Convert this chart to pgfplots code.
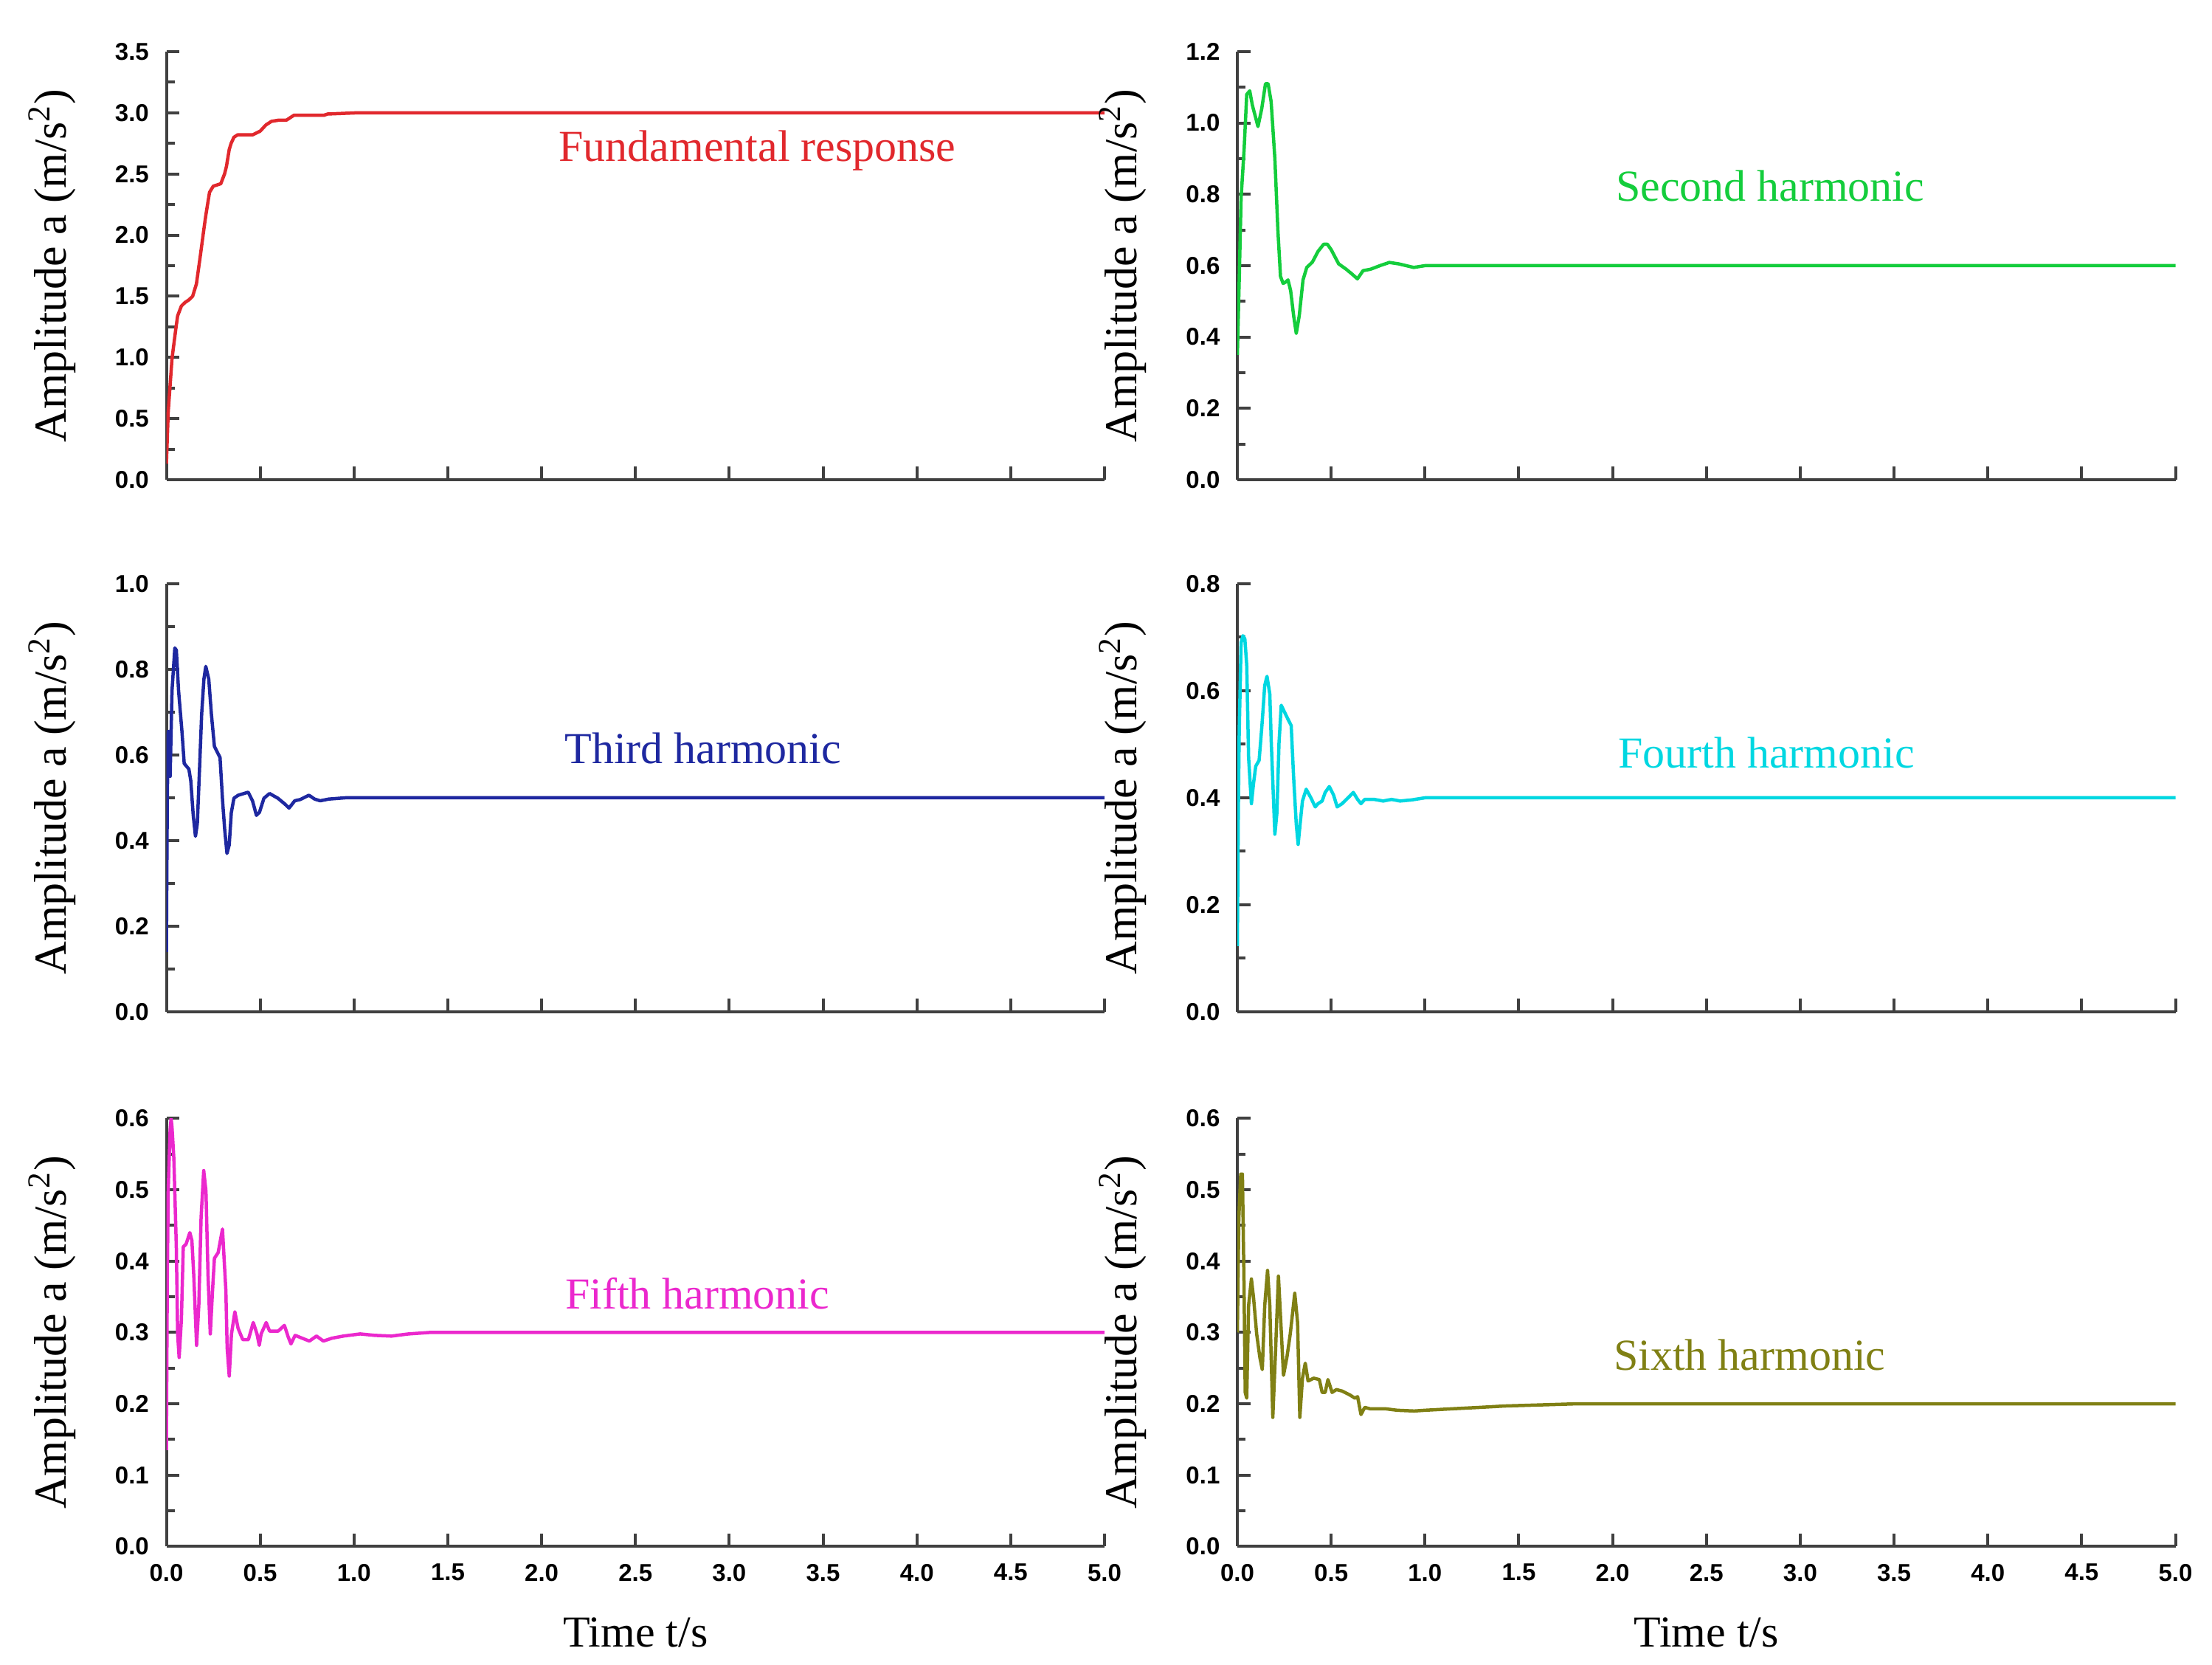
\documentclass[border=0pt]{standalone}
\usepackage{fontspec}
\setmainfont{Liberation Serif}
\setsansfont{Liberation Sans}
\usepackage{pgfplots}
\pgfplotsset{compat=1.18}

\definecolor{cred}{RGB}{225,40,45}
\definecolor{cgreen}{RGB}{20,205,60}
\definecolor{cblue}{RGB}{30,40,160}
\definecolor{ccyan}{RGB}{0,215,225}
\definecolor{cmag}{RGB}{235,40,205}
\definecolor{colive}{RGB}{128,128,20}

\pgfplotsset{
  myaxis/.style={
    scale only axis, width=254.3pt, height=116pt,
    axis lines*=left,
    axis line style={line width=0.8pt, black!75},
    xmin=0, xmax=5, ymin=0,
    xtick={0,0.5,1,1.5,2,2.5,3,3.5,4,4.5,5},
    minor y tick num=1,
    tick style={line width=0.8pt, black!75},
    major tick length=3.5pt, minor tick length=2.2pt,
    tick align=inside,
    ticklabel style={font=\sffamily\bfseries\fontsize{6.6}{7}\selectfont},
    xticklabel style={yshift=-1.2pt},
    yticklabel style={xshift=-1.2pt},
    /pgf/number format/assume math mode=true,
    /pgf/number format/fixed,
    /pgf/number format/fixed zerofill,
    /pgf/number format/precision=1,
    ylabel={Amplitude a (m/s\textsuperscript{2})},
    ylabel style={font=\fontsize{12.4}{13}\selectfont, at={(axis description cs:0,0.5)}, anchor=center, yshift=31pt},
    xlabel style={font=\fontsize{12}{13}\selectfont, at={(axis description cs:0.5,0)}, anchor=center, yshift=-23.3pt},
    every axis plot/.append style={line width=0.9pt, line join=round},
  },
  notx/.style={xticklabels={}},
}

\begin{document}
\begin{tikzpicture}
\path[use as bounding box] (0,0) rectangle (599.6pt,451.2pt);

% ---------- Fundamental ----------
\begin{axis}[myaxis, notx, at={(45.1pt,321.2pt)}, anchor=south west,
  ymax=3.5, ytick={0,0.5,1,1.5,2,2.5,3,3.5}]
\addplot[cred] coordinates {
(0,0.13) (0.01,0.56) (0.03,0.99) (0.05,1.23) (0.06,1.34) (0.08,1.42) (0.1,1.45) (0.12,1.47) (0.14,1.50) (0.16,1.60) (0.18,1.82) (0.2,2.05) (0.21,2.16) (0.23,2.35) (0.25,2.40) (0.27,2.41) (0.29,2.42) (0.31,2.50) (0.32,2.56) (0.335,2.70) (0.345,2.75) (0.36,2.80) (0.38,2.82) (0.42,2.82) (0.46,2.82) (0.50,2.85) (0.53,2.90) (0.56,2.93) (0.60,2.94) (0.64,2.94) (0.66,2.96) (0.68,2.98) (0.84,2.98) (0.86,2.99) (1.02,3.0) (5,3.0)
};
\node[text=cred, font=\fontsize{12}{13}\selectfont] at (axis cs:3.15,2.69) {Fundamental response};
\end{axis}

% ---------- Second ----------
\begin{axis}[myaxis, notx, at={(335.4pt,321.2pt)}, anchor=south west,
  ymax=1.2, ytick={0,0.2,0.4,0.6,0.8,1.0,1.2}]
\addplot[cgreen] coordinates {
(0,0.35) (0.01,0.56) (0.02,0.79) (0.036,0.925) (0.05,1.08) (0.066,1.09) (0.08,1.05) (0.09,1.03) (0.11,0.99) (0.13,1.04) (0.15,1.11) (0.164,1.11) (0.18,1.06) (0.2,0.90) (0.216,0.70) (0.23,0.57) (0.244,0.55) (0.26,0.555) (0.27,0.56) (0.284,0.53) (0.30,0.46) (0.314,0.41) (0.33,0.46) (0.35,0.56) (0.37,0.595) (0.40,0.61) (0.43,0.64) (0.46,0.66) (0.48,0.66) (0.50,0.645) (0.54,0.605) (0.58,0.59) (0.61,0.577) (0.64,0.563) (0.67,0.586) (0.71,0.59) (0.76,0.60) (0.81,0.609) (0.86,0.605) (0.94,0.595) (1.0,0.60) (5,0.60)
};
\node[text=cgreen, font=\fontsize{12}{13}\selectfont] at (axis cs:2.84,0.824) {Second harmonic};
\end{axis}

% ---------- Third ----------
\begin{axis}[myaxis, notx, at={(45.1pt,177.0pt)}, anchor=south west,
  ymax=1.0, ytick={0,0.2,0.4,0.6,0.8,1.0}]
\addplot[cblue] coordinates {
(0,0.14) (0.005,0.506) (0.01,0.655) (0.02,0.55) (0.03,0.75) (0.045,0.85) (0.053,0.845) (0.065,0.75) (0.083,0.655) (0.095,0.58) (0.12,0.567) (0.13,0.54) (0.143,0.46) (0.155,0.41) (0.165,0.44) (0.176,0.56) (0.188,0.695) (0.20,0.777) (0.21,0.807) (0.226,0.777) (0.24,0.695) (0.256,0.62) (0.286,0.594) (0.30,0.49) (0.311,0.425) (0.323,0.37) (0.335,0.39) (0.346,0.465) (0.36,0.499) (0.383,0.506) (0.436,0.513) (0.459,0.493) (0.48,0.459) (0.496,0.466) (0.52,0.499) (0.55,0.51) (0.594,0.499) (0.63,0.486) (0.654,0.476) (0.684,0.493) (0.714,0.496) (0.76,0.506) (0.79,0.497) (0.82,0.493) (0.865,0.497) (0.955,0.5) (5,0.5)
};
\node[text=cblue, font=\fontsize{12}{13}\selectfont] at (axis cs:2.86,0.615) {Third harmonic};
\end{axis}

% ---------- Fourth ----------
\begin{axis}[myaxis, notx, at={(335.4pt,177.0pt)}, anchor=south west,
  ymax=0.8, ytick={0,0.2,0.4,0.6,0.8}]
\addplot[ccyan] coordinates {
(0,0.123) (0.005,0.367) (0.01,0.524) (0.02,0.69) (0.03,0.703) (0.04,0.697) (0.05,0.648) (0.06,0.475) (0.075,0.389) (0.086,0.426) (0.098,0.459) (0.116,0.47) (0.131,0.535) (0.146,0.61) (0.158,0.627) (0.173,0.594) (0.181,0.502) (0.19,0.421) (0.20,0.332) (0.211,0.372) (0.222,0.502) (0.234,0.573) (0.249,0.562) (0.271,0.546) (0.287,0.535) (0.30,0.438) (0.314,0.351) (0.324,0.313) (0.336,0.356) (0.347,0.394) (0.367,0.416) (0.392,0.40) (0.415,0.383) (0.43,0.389) (0.452,0.394) (0.468,0.41) (0.49,0.421) (0.513,0.405) (0.532,0.383) (0.558,0.389) (0.596,0.402) (0.618,0.41) (0.641,0.397) (0.659,0.389) (0.679,0.397) (0.73,0.397) (0.777,0.394) (0.822,0.397) (0.867,0.394) (0.928,0.396) (1.0,0.40) (5,0.40)
};
\node[text=ccyan, font=\fontsize{12}{13}\selectfont] at (axis cs:2.82,0.484) {Fourth harmonic};
\end{axis}

% ---------- Fifth ----------
\begin{axis}[myaxis, at={(45.1pt,32.1pt)}, anchor=south west,
  ymax=0.6, ytick={0,0.1,0.2,0.3,0.4,0.5,0.6}, xlabel={Time t/s}]
\addplot[cmag] coordinates {
(0,0.135) (0.005,0.38) (0.01,0.502) (0.02,0.584) (0.025,0.60) (0.03,0.588) (0.04,0.543) (0.053,0.42) (0.06,0.298) (0.068,0.265) (0.08,0.318) (0.09,0.42) (0.105,0.424) (0.125,0.44) (0.136,0.429) (0.146,0.38) (0.161,0.282) (0.173,0.339) (0.185,0.461) (0.199,0.527) (0.211,0.498) (0.222,0.38) (0.234,0.298) (0.246,0.359) (0.256,0.404) (0.276,0.412) (0.299,0.445) (0.317,0.359) (0.324,0.278) (0.335,0.239) (0.347,0.298) (0.365,0.329) (0.382,0.306) (0.407,0.29) (0.437,0.29) (0.463,0.314) (0.483,0.298) (0.495,0.282) (0.505,0.298) (0.532,0.314) (0.55,0.302) (0.596,0.302) (0.629,0.31) (0.649,0.294) (0.664,0.284) (0.686,0.296) (0.724,0.292) (0.762,0.288) (0.80,0.295) (0.837,0.288) (0.882,0.292) (0.943,0.295) (1.033,0.298) (1.11,0.296) (1.2,0.295) (1.29,0.298) (1.4,0.30) (5,0.30)
};
\node[text=cmag, font=\fontsize{12}{13}\selectfont] at (axis cs:2.83,0.355) {Fifth harmonic};
\end{axis}

% ---------- Sixth ----------
\begin{axis}[myaxis, at={(335.4pt,32.1pt)}, anchor=south west,
  ymax=0.6, ytick={0,0.1,0.2,0.3,0.4,0.5,0.6}, xlabel={Time t/s}]
\addplot[colive] coordinates {
(0,0.30) (0.008,0.46) (0.018,0.522) (0.027,0.522) (0.035,0.38) (0.042,0.216) (0.05,0.208) (0.06,0.338) (0.075,0.375) (0.087,0.347) (0.103,0.298) (0.12,0.265) (0.133,0.248) (0.146,0.338) (0.161,0.387) (0.173,0.338) (0.189,0.181) (0.204,0.277) (0.219,0.379) (0.231,0.318) (0.246,0.24) (0.264,0.265) (0.282,0.298) (0.306,0.355) (0.321,0.314) (0.333,0.181) (0.347,0.236) (0.362,0.257) (0.377,0.232) (0.407,0.236) (0.437,0.234) (0.452,0.216) (0.468,0.216) (0.483,0.234) (0.505,0.216) (0.528,0.22) (0.558,0.218) (0.603,0.212) (0.626,0.208) (0.641,0.21) (0.659,0.185) (0.679,0.195) (0.709,0.193) (0.754,0.193) (0.792,0.193) (0.852,0.191) (0.943,0.19) (1.0,0.191) (1.14,0.193) (1.29,0.195) (1.425,0.197) (1.68,0.199) (1.8,0.2) (5,0.2)
};
\node[text=colive, font=\fontsize{12}{13}\selectfont] at (axis cs:2.73,0.268) {Sixth harmonic};
\end{axis}
\end{tikzpicture}
\end{document}
